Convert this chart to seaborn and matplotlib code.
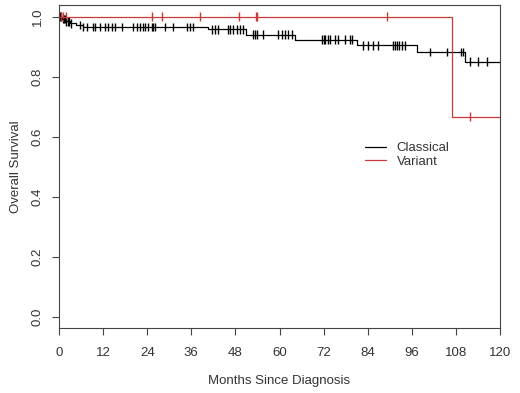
import numpy as np
import pandas as pd
import matplotlib
matplotlib.use("Agg")
import matplotlib.pyplot as plt
import seaborn as sns

# Kaplan-Meier step values (months, survival)
classical_times = [0, 0.8, 1.8, 3.0, 4.5, 6.5, 40.5, 51.0, 64.2, 81.0, 97.3, 110.5, 120]
classical_surv = [1.0, 0.992, 0.985, 0.978, 0.972, 0.966, 0.958, 0.940, 0.923, 0.905, 0.882, 0.850, 0.850]
variant_times = [0, 107.0, 120]
variant_surv = [1.0, 0.667, 0.667]

# censored observations (months)
classical_censor = [0.3, 0.6, 1.0, 1.3, 1.6, 2.0, 2.4, 2.8, 3.3, 5.7, 6.5, 7.6,
                    9.3, 9.8, 11.2, 12.5, 13.4, 14.4, 15.2, 17.1, 20.1, 21.2, 22.0,
                    22.9, 23.4, 24.3, 25.2, 25.7, 26.1, 28.8, 31.1, 34.7, 35.6, 36.5,
                    41.5, 42.4, 43.3, 46.1, 46.5, 47.4, 48.3, 49.2, 50.0, 52.8, 53.3,
                    53.9, 55.6, 59.6, 60.6, 61.5, 62.4, 63.4, 71.5, 72.0, 72.4, 73.3,
                    73.8, 75.1, 76.0, 77.8, 79.3, 79.8, 82.8, 84.1, 85.5, 86.9, 90.9,
                    91.5, 91.9, 92.5, 93.2, 94.1, 101.0, 105.5, 109.4, 109.8, 111.8,
                    114.1, 116.4]
variant_censor = [0.5, 1.2, 2.0, 25.2, 27.9, 38.4, 49.0, 53.6, 54.0, 89.2, 111.8]

groups = ["Classical", "Variant"]
colors = {"Classical": "black", "Variant": "#c83a3a"}


def surv_at(times, surv, t):
    idx = np.searchsorted(times, t, side="right") - 1
    return np.asarray(surv)[idx]


steps = pd.concat([
    pd.DataFrame({"months": classical_times, "surv": classical_surv, "group": "Classical"}),
    pd.DataFrame({"months": variant_times, "surv": variant_surv, "group": "Variant"}),
])
cens = pd.concat([
    pd.DataFrame({"months": classical_censor,
                  "surv": surv_at(classical_times, classical_surv, classical_censor),
                  "group": "Classical"}),
    pd.DataFrame({"months": variant_censor,
                  "surv": surv_at(variant_times, variant_surv, variant_censor),
                  "group": "Variant"}),
])

sns.set_style("ticks")
plt.rcParams["font.family"] = ["Liberation Sans", "DejaVu Sans"]

fig = plt.figure(figsize=(5.2, 3.93), dpi=100)
ax = fig.add_axes([59 / 520, 1 - 328 / 393, 441 / 520, 323 / 393])

sns.lineplot(data=steps, x="months", y="surv", hue="group", hue_order=groups,
             palette=colors, drawstyle="steps-post", estimator=None, sort=False,
             linewidth=0.9, ax=ax)
sns.scatterplot(data=cens, x="months", y="surv", hue="group", hue_order=groups,
                palette=colors, marker="|", s=40, linewidth=1.0, legend=False, ax=ax)

ax.set_xlim(0, 120)
ax.set_ylim(-0.038, 1.039)
ax.set_xticks(np.arange(0, 121, 12))
ax.set_yticks(np.arange(0, 1.01, 0.2))
ax.set_yticklabels([f"{v:.1f}" for v in np.arange(0, 1.01, 0.2)], rotation=90, va="center")

for s in ax.spines.values():
    s.set_visible(True)
    s.set_color("#444444")
    s.set_linewidth(0.8)
ax.tick_params(direction="out", length=5, width=0.8, color="#444444",
               labelsize=9.5, labelcolor="#333333", pad=6)
ax.tick_params(axis="x", pad=9)

ax.set_xlabel("Months Since Diagnosis", fontsize=9.5, color="#333333", labelpad=11)
ax.set_ylabel("Overall Survival", fontsize=9.5, color="#333333", labelpad=7)

handles, labels = ax.get_legend_handles_labels()
ax.legend(handles, labels, frameon=False, loc="upper left",
          bbox_to_anchor=((365 - 59) / 441, (328 - 142) / 323),
          borderaxespad=0, borderpad=0, handlelength=1.6, handletextpad=0.8,
          labelspacing=0.1, fontsize=9.5, labelcolor="#333333")

fig.savefig("out.png", dpi=100)
